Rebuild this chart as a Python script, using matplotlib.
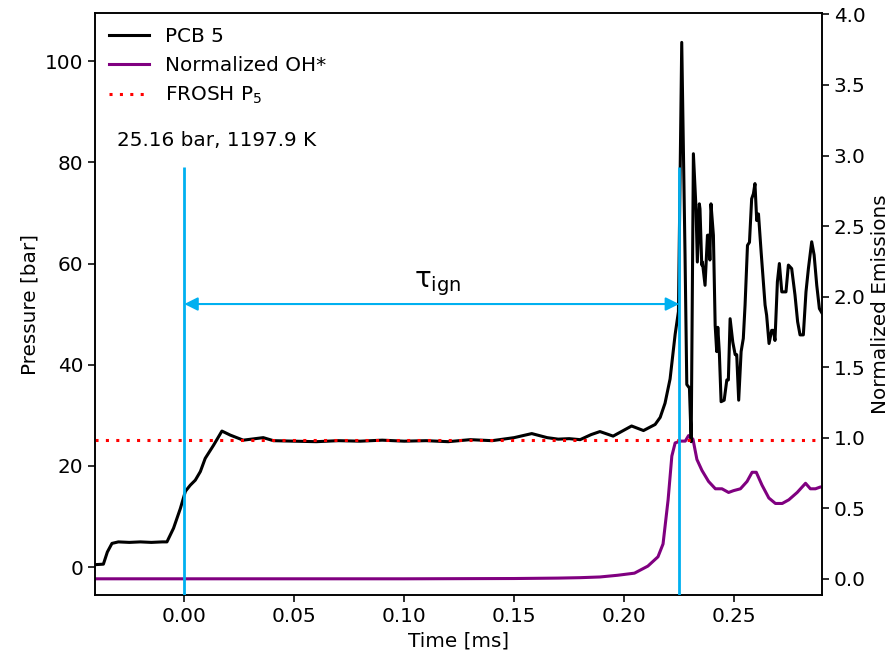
import numpy as np
import matplotlib
matplotlib.use("Agg")
import matplotlib.pyplot as plt

plt.rcParams['font.family'] = ['DejaVu Sans']
plt.rcParams['font.size'] = 14.4
plt.rcParams['axes.linewidth'] = 1.15
for ax_name in ('xtick', 'ytick'):
    plt.rcParams[ax_name + '.major.size'] = 5
    plt.rcParams[ax_name + '.major.width'] = 1.15

# PCB 5 pressure trace
t_pcb = [-0.0406, -0.0368, -0.035, -0.0329, -0.030, -0.025, -0.020, -0.015, -0.010,
         -0.0079, -0.0049, -0.0018, 0.0005, 0.0027, 0.005, 0.0073, 0.0095, 0.0133,
         0.0171, 0.0209, 0.0268, 0.0359, 0.0405, 0.05, 0.06, 0.07, 0.08, 0.09, 0.10,
         0.11, 0.12, 0.13, 0.14, 0.15, 0.158, 0.165, 0.17, 0.175, 0.18, 0.185, 0.189,
         0.195, 0.2034, 0.2088, 0.2141, 0.2164, 0.2186, 0.2209, 0.2232, 0.2247, 0.2262,
         0.2277, 0.2285, 0.2297, 0.2305, 0.2315, 0.2327, 0.2333, 0.2342, 0.2345, 0.2353,
         0.2356, 0.2368, 0.2379, 0.2386, 0.239, 0.2395, 0.2406, 0.2414, 0.2421,
         0.2426, 0.2433, 0.2441, 0.2455, 0.2467, 0.2474, 0.2482, 0.2494, 0.2505,
         0.2512, 0.2521, 0.2532, 0.2542, 0.255, 0.2561, 0.257, 0.258, 0.2588,
         0.2595, 0.2603, 0.2611, 0.2623, 0.2641, 0.2648, 0.2659, 0.2671, 0.2679,
         0.2686, 0.2697, 0.2706, 0.2717, 0.2736, 0.2747, 0.2762, 0.2777, 0.2789,
         0.28, 0.2815, 0.2827, 0.2838, 0.2853, 0.2864, 0.2876, 0.2888, 0.29]
p_pcb = [0.5, 0.6, 3.0, 4.7, 5.0, 4.9, 5.0, 4.9, 5.0,
         5.0, 7.7, 11.6, 15.0, 16.2, 17.2, 18.9, 21.5, 24.1,
         26.9, 26.1, 25.1, 25.6, 25.0, 24.9, 24.8, 25.0, 24.9, 25.1, 24.9,
         25.0, 24.8, 25.2, 25.0, 25.6, 26.4, 25.6, 25.3, 25.4, 25.2, 26.2, 26.8,
         25.9, 27.9, 27.0, 28.2, 29.6, 32.4, 37.2, 46.0, 50.5, 103.7,
         61.7, 36.1, 35.4, 24.8, 81.7, 70.8, 60.3, 71.8, 70.8, 59.7,
         60.3, 55.7, 65.6, 65.6, 60.7, 71.8, 65.6, 47.8, 42.6,
         47.4, 42.4, 32.7, 33.0, 37.0, 37.0, 49.1, 44.5, 42.0,
         42.0, 33.0, 42.6, 45.2, 51.8, 63.6, 64.2, 72.8, 73.8,
         75.8, 68.5, 69.8, 62.3, 51.8, 49.8, 44.2, 46.8, 46.8,
         44.8, 56.4, 60.0, 54.4, 54.4, 59.7, 59.0, 53.8, 48.5,
         45.9, 45.9, 54.4, 59.0, 64.3, 61.7, 55.7, 51.1, 50.2]

# normalized OH* emission
t_oh = [-0.0406, 0.0, 0.05, 0.10, 0.15, 0.17, 0.18, 0.189, 0.197, 0.2047, 0.2108,
        0.2154, 0.2177, 0.22, 0.2217, 0.2232, 0.2255, 0.2278, 0.2293, 0.2313, 0.2331,
        0.2354, 0.2384, 0.2415, 0.2445, 0.2475, 0.2498, 0.2529, 0.2559, 0.2582, 0.2601,
        0.2627, 0.2658, 0.2688, 0.2719, 0.2749, 0.2787, 0.2825, 0.2847, 0.287, 0.2893,
        0.29]
oh = [0.0, 0.0, 0.0, 0.0, 0.002, 0.005, 0.008, 0.013, 0.025, 0.04, 0.09,
      0.156, 0.247, 0.56, 0.87, 0.963, 0.976, 0.976, 1.015, 0.99, 0.846,
      0.768, 0.69, 0.638, 0.638, 0.612, 0.625, 0.638, 0.69, 0.755, 0.755,
      0.664, 0.573, 0.534, 0.534, 0.56, 0.612, 0.677, 0.638, 0.638, 0.651,
      0.65]

p5 = 25.16
T5 = 1197.9
t_start = 0.0
t_ign = 0.225

cyan = '#00B0F0'

fig = plt.figure(figsize=(8.94, 6.58), dpi=100)
ax1 = fig.add_axes([0.1063, 0.0957, 0.8132, 0.8845])
ax2 = ax1.twinx()

l1, = ax1.plot(t_pcb, p_pcb, color='black', lw=2.2, label='PCB 5')
l2, = ax2.plot(t_oh, oh, color='purple', lw=2.2, label='Normalized OH*')
l3 = ax1.axhline(p5, color='red', lw=2.2, linestyle=(0, (1, 2.4)), label='FROSH P$_5$')

ax1.set_xlim(-0.0406, 0.29)
ax1.set_ylim(-5.5, 109.5)
ax2.set_ylim(-0.115, 4.01)

# ignition delay markers
ax2.set_zorder(1)
ax1.set_zorder(2)
ax1.patch.set_visible(False)
ax1.vlines([t_start, t_ign], -5.5, 79, color=cyan, lw=2.0, zorder=3)
ax1.annotate('', xy=(t_start, 52), xytext=(t_ign, 52),
             arrowprops=dict(arrowstyle='<|-|>', color=cyan, lw=1.5,
                             mutation_scale=20, shrinkA=0, shrinkB=0))
ax1.text((t_start + t_ign) / 2 + 0.0027, 53.2, r'$\mathrm{τ}_{\mathrm{ign}}$',
         fontsize=20, ha='center', va='bottom')
ax1.text(-0.0306, 83.3, f'{p5:.2f} bar, {T5:.1f} K', ha='left', va='baseline')

ax1.set_xlabel('Time [ms]')
ax1.set_ylabel('Pressure [bar]')
ax2.set_ylabel('Normalized Emissions')

ax1.legend(handles=[l1, l2, l3], loc='upper left', frameon=False,
           handlelength=2.0, borderaxespad=0.3)

fig.savefig('out.png', dpi=100)
